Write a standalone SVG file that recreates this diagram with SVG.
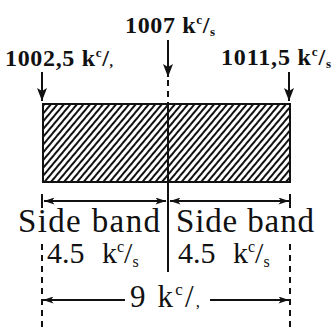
<svg xmlns="http://www.w3.org/2000/svg" width="335" height="328" viewBox="0 0 335 328">
<style>
.t{font-family:"Liberation Serif","Times New Roman",serif;fill:#111}
.b{font-weight:bold;font-size:24px}
.big{font-size:33px}
.mid{font-size:30px;word-spacing:10px}
.nine{font-size:31px}
.ln{stroke:#111;fill:none;stroke-width:2}
.dash{stroke:#111;fill:none;stroke-width:2;stroke-dasharray:6 5}
</style>
<defs>
<pattern id="hatch" width="5" height="5" patternUnits="userSpaceOnUse" patternTransform="rotate(40)">
<rect width="5" height="5" fill="#fff"/>
<rect width="2" height="5" fill="#111"/>
</pattern>
<marker id="ah" viewBox="0 0 12 8" refX="12" refY="4" markerWidth="12" markerHeight="7" markerUnits="userSpaceOnUse" orient="auto-start-reverse">
<path d="M0,0 L12,4 L0,8 L3,4 Z" fill="#111"/>
</marker>
<marker id="dn" viewBox="0 0 13 10" refX="13" refY="5" markerWidth="13" markerHeight="10" markerUnits="userSpaceOnUse" orient="auto">
<path d="M0,0 L13,5 L0,10 L3,5 Z" fill="#111"/>
</marker>
</defs>
<rect width="335" height="328" fill="#fff"/>

<g id="band">
<rect x="43" y="104" width="247" height="78" fill="url(#hatch)" stroke="#111" stroke-width="2"/>
<line class="ln" x1="42" y1="104" x2="291" y2="104" stroke-width="3.5"/>
<line class="ln" x1="42" y1="182" x2="291" y2="182" stroke-width="3.5"/>
</g>

<g id="label-1002">
<text class="t b" x="5" y="66" textLength="108">1002,5 k<tspan font-size="13" dy="-9">c</tspan><tspan dy="9">/</tspan><tspan font-size="14">,</tspan></text>
</g>
<g id="label-1007">
<text class="t b" x="125" y="33" textLength="90">1007 k<tspan font-size="13" dy="-9">c</tspan><tspan dy="9">/</tspan><tspan font-size="13" dy="3">s</tspan></text>
</g>
<g id="label-1011">
<text class="t b" x="221" y="65" textLength="110">1011,5 k<tspan font-size="13" dy="-9">c</tspan><tspan dy="9">/</tspan><tspan font-size="13" dy="3">s</tspan></text>
</g>

<g id="sideband-left">
<text class="t big" x="18" y="232" textLength="142">Side band</text>
<text class="t mid" x="47" y="263">4.5 k<tspan font-size="16" dy="-11">c</tspan><tspan dy="11">/</tspan><tspan font-size="16" dy="4">s</tspan></text>
</g>
<g id="sideband-right">
<text class="t big" x="176" y="232" textLength="138">Side band</text>
<text class="t mid" x="178" y="263">4.5 k<tspan font-size="16" dy="-11">c</tspan><tspan dy="11">/</tspan><tspan font-size="16" dy="4">s</tspan></text>
</g>
<g id="total">
<text class="t nine" x="130" y="307" textLength="70">9 k<tspan font-size="17" dy="-12">c</tspan><tspan dy="12">/</tspan><tspan font-size="17">,</tspan></text>
</g>

<g id="connectors">
<line class="ln" x1="42" y1="72" x2="42" y2="101" marker-end="url(#dn)"/>
<line class="ln" x1="289" y1="72" x2="289" y2="101" marker-end="url(#dn)"/>
<line class="ln" x1="168" y1="40" x2="168" y2="77" marker-end="url(#dn)"/>
<line class="dash" x1="168" y1="80" x2="168" y2="104"/>
<line class="ln" x1="168" y1="104" x2="168" y2="272"/>
<line class="ln" x1="44" y1="201" x2="166" y2="201" marker-start="url(#ah)" marker-end="url(#ah)"/>
<line class="ln" x1="170" y1="201" x2="289" y2="201" marker-start="url(#ah)" marker-end="url(#ah)"/>
<line class="ln" x1="42" y1="194" x2="42" y2="208"/>
<line class="ln" x1="290" y1="194" x2="290" y2="208"/>
<line class="dash" x1="42" y1="244" x2="42" y2="328"/>
<line class="dash" x1="290" y1="244" x2="290" y2="328"/>
<line class="ln" x1="43" y1="300" x2="125" y2="300" marker-start="url(#ah)"/>
<line class="ln" x1="210" y1="300" x2="289" y2="300" marker-end="url(#ah)"/>
</g>
</svg>
